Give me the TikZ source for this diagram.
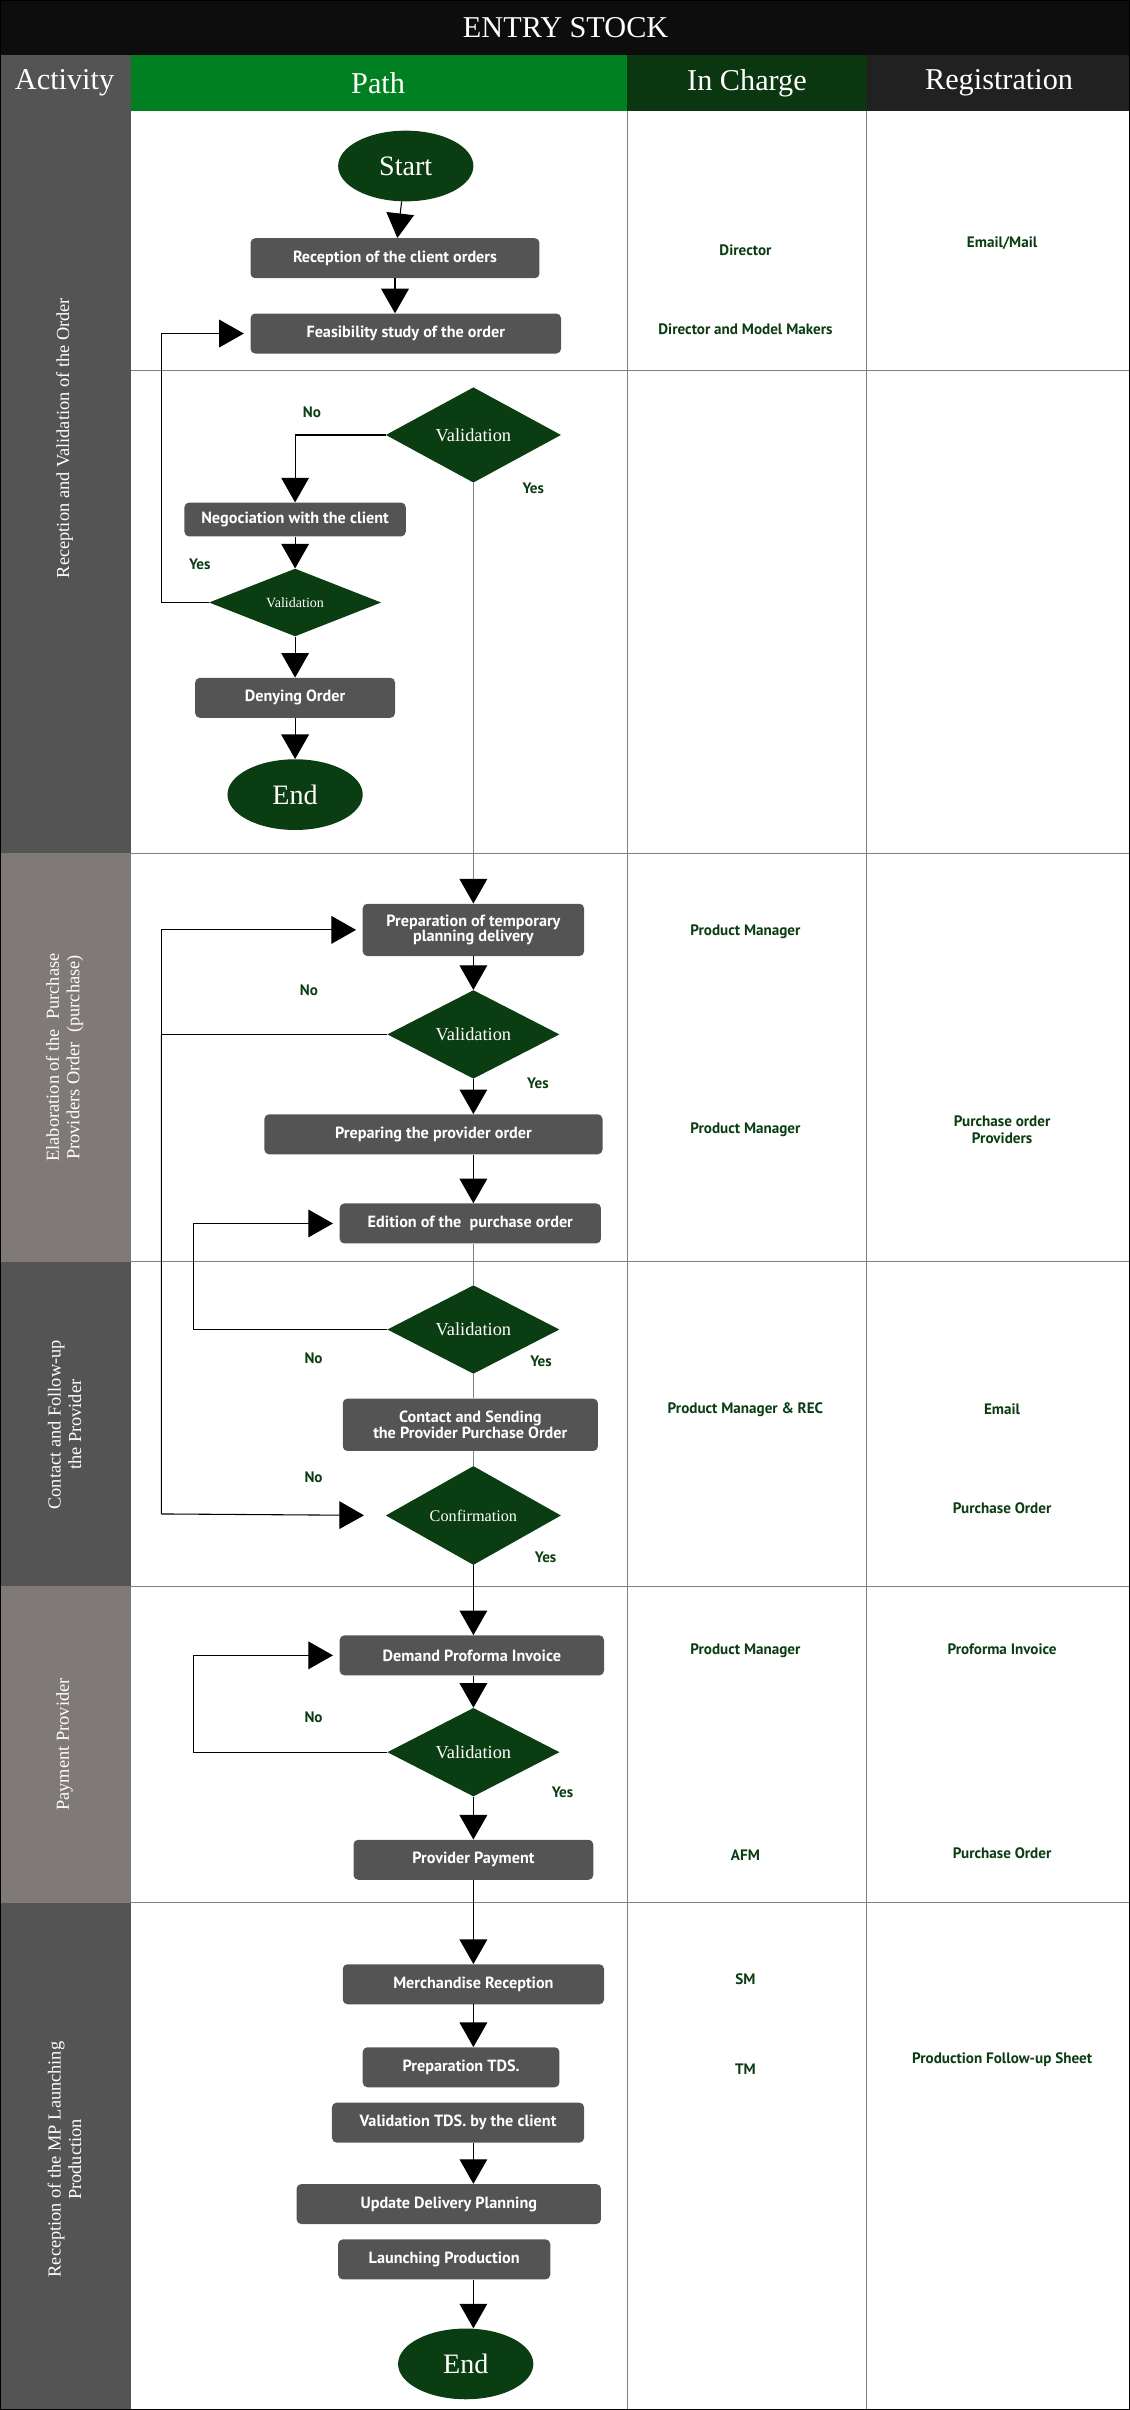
\documentclass[tikz,border=0pt]{standalone}
\usepackage{fontspec}
\setmainfont{Liberation Serif}
\newfontfamily\boxfont{PT Sans}
\usetikzlibrary{shapes.geometric,arrows.meta}
\definecolor{darkgr}{HTML}{0B3D12}
\definecolor{headgr}{HTML}{008020}
\definecolor{boxgray}{HTML}{545454}
\definecolor{lightact}{HTML}{7F7A78}

\tikzset{
  box/.style={rectangle,rounded corners=1.5mm,fill=boxgray,text=white,
    font=\boxfont\bfseries\fontsize{15}{17}\selectfont,align=center,
    minimum height=13mm,inner sep=1mm},
  dec/.style={diamond,fill=darkgr,text=white,inner sep=0pt,
    font=\fontsize{17}{19}\selectfont},
  term/.style={ellipse,fill=darkgr,text=white,minimum width=44mm,
    minimum height=23mm,font=\fontsize{26}{28}\selectfont},
  lbl/.style={text=darkgr,font=\boxfont\bfseries\fontsize{14}{16}\selectfont,align=center},
  act/.style={text=white,rotate=90,align=center,font=\fontsize{17}{19}\selectfont},
  head/.style={text=white,font=\fontsize{28}{30}\selectfont},
  flow/.style={line width=1pt,-{Triangle[length=8mm,width=9mm,color=black]}},
  thin/.style={draw=gray,line width=0.8pt},
}

\begin{document}
\begin{tikzpicture}[x=0.5mm,y=-0.5mm]
\useasboundingbox (0,0) rectangle (735,1568);
% header
\fill[black!95] (0,0) rectangle (735,36);
\node[head] (title) at (368,18) {ENTRY STOCK};
\fill[boxgray] (0,36) rectangle (85,1568);
\fill[headgr] (85,36) rectangle (408,72);
\fill[darkgr!90!black] (408,36) rectangle (564,72);
\fill[black!87] (564,36) rectangle (735,72);
\node[head] (hact) at (42,54) {Activity};
\node[head] (hpath) at (246,54) {Path};
\node[head] (hchg) at (486,54) {In Charge};
\node[head] (hreg) at (650,54) {Registration};
% activity column
\fill[lightact] (0,555) rectangle (85,821);
\fill[lightact] (0,1032) rectangle (85,1238);
\node[act] (a1) at (42,285) {Reception and Validation of the Order};
\node[act] (a2) at (42,688) {Elaboration of the \ Purchase\\Providers Order \ (purchase)};
\node[act] (a3) at (42,927) {Contact and Follow-up\\the Provider};
\node[act] (a4) at (42,1135) {Payment Provider};
\node[act] (a5) at (42,1405) {Reception of the MP Launching\\Production};
% grid
\foreach \y in {241,555,821,1032,1238}
  \draw[thin] (85,\y) -- (735,\y);
\draw[thin] (408,72) -- (408,1568);
\draw[thin] (564,72) -- (564,1568);
\draw[line width=1.5pt] (0,0) rectangle (735,1568);

% path nodes
\node[term] (start) at (264,108) {Start};
\node[box,minimum width=94mm] (recep) at (257,168) {Reception of the client orders};
\node[box,minimum width=101mm] (feas) at (264,217) {Feasibility study of the order};
\node[dec,minimum width=57mm,minimum height=31mm] (val1) at (308,283) {Validation};
\node[box,minimum width=72mm,minimum height=11mm] (nego) at (192,338) {Negociation with the client};
\node[dec,minimum width=56mm,minimum height=16mm,font=\fontsize{13}{15}\selectfont] (val2) at (192,392) {Validation};
\node[box,minimum width=65mm] (deny) at (192,454) {Denying Order};
\node[term] (end1) at (192,517) {End};
\node[box,minimum width=72mm,minimum height=17mm] (tempplan) at (308,605) {Preparation of temporary\\[-3pt]planning delivery};
\node[dec,minimum width=56mm,minimum height=20mm] (val3) at (308,673) {Validation};
\node[box,minimum width=110mm] (provord) at (282,738) {Preparing the provider order};
\node[box,minimum width=85mm] (edit) at (306,796) {Edition of the \ purchase order};
\node[dec,minimum width=56mm,minimum height=20mm] (val4) at (308,865) {Validation};
\node[box,minimum width=83mm,minimum height=17mm] (contact) at (306,927) {Contact and Sending\\[-3pt]the Provider Purchase Order};
\node[dec,minimum width=57mm,minimum height=20mm,font=\fontsize{15}{17}\selectfont] (conf) at (308,986) {Confirmation};
\node[box,minimum width=86mm] (demand) at (307,1077) {Demand Proforma Invoice};
\node[dec,minimum width=56mm,minimum height=20mm] (val5) at (308,1140) {Validation};
\node[box,minimum width=78mm] (pay) at (308,1210) {Provider Payment};
\node[box,minimum width=85mm] (merch) at (308,1291) {Merchandise Reception};
\node[box,minimum width=64mm] (preptds) at (300,1345) {Preparation TDS.};
\node[box,minimum width=82mm] (valtds) at (298,1381) {Validation TDS. by the client};
\node[box,minimum width=99mm] (update) at (292,1434) {Update Delivery Planning};
\node[box,minimum width=69mm] (launch) at (289,1470) {Launching Production};
\node[term] (end2) at (303,1538) {End};

% loop corners
\coordinate (c1) at (105,392);
\coordinate (c2) at (105,217);
\coordinate (c3) at (105,673);
\coordinate (c4) at (105,605);
\coordinate (c5) at (105,985);
\coordinate (c6) at (126,865);
\coordinate (c7) at (126,796);
\coordinate (c8) at (126,1140);
\coordinate (c9) at (126,1077);

% connectors
\draw[flow] (start) -- (recep);
\draw[flow] (recep) -- (feas.north -| recep);
\draw[flow] (val1.west) -| (nego.north);
\draw[flow] (nego) -- (val2);
\draw[flow] (val2) -- (deny);
\draw[flow] (deny) -- (end1);
\draw[flow,shorten >=6pt] (val2.west) -- (c1) -- (c2) -- (feas.west);
\draw[thin,-{Triangle[length=8mm,width=9mm,color=black]}] (val1.south) -- (tempplan.north);
\draw[flow] (tempplan) -- (val3);
\draw[flow] (val3) -- (provord.north -| val3);
\draw[flow] (provord.south -| val3) -- (edit.north -| val3);
\draw[flow,shorten >=6pt] (val3.west) -- (c3) -- (c4) -- (tempplan.west);
\draw[flow,shorten >=20pt] (c3) -- (c5) -- (conf.west);
\draw[thin] (edit.south -| val4) -- (val4);
\draw[thin] (val4) -- (contact.north -| val4);
\draw[thin] (contact.south -| conf) -- (conf);
\draw[flow,shorten >=6pt] (val4.west) -- (c6) -- (c7) -- (edit.west);
\draw[flow] (conf.south) -- (demand.north -| conf);
\draw[flow] (demand.south -| val5) -- (val5);
\draw[flow] (val5) -- (pay);
\draw[flow,shorten >=6pt] (val5.west) -- (c8) -- (c9) -- (demand.west);
\draw[flow] (pay) -- (merch);
\draw[flow] (merch.south -| pay) -- (preptds.north -| pay);
\draw[flow] (valtds.south -| pay) -- (update.north -| pay);
\draw[flow] (launch.south -| pay) -- (end2.north -| pay);

% yes/no labels
\node[lbl] (n1) at (203,268) {No};
\node[lbl] (y1) at (347,318) {Yes};
\node[lbl] (y2) at (130,367) {Yes};
\node[lbl] (n3) at (201,644) {No};
\node[lbl] (y3) at (350,705) {Yes};
\node[lbl] (n4) at (204,884) {No};
\node[lbl] (y4) at (352,886) {Yes};
\node[lbl] (n5) at (204,961) {No};
\node[lbl] (y5) at (355,1013) {Yes};
\node[lbl] (n6) at (204,1117) {No};
\node[lbl] (y6) at (366,1166) {Yes};

% in charge
\node[lbl] (ic1) at (485,163) {Director};
\node[lbl] (ic2) at (485,214) {Director and Model Makers};
\node[lbl] (ic3) at (485,606) {Product Manager};
\node[lbl] (ic4) at (485,735) {Product Manager};
\node[lbl] (ic5) at (485,917) {Product Manager \& REC};
\node[lbl] (ic6) at (485,1074) {Product Manager};
\node[lbl] (ic7) at (485,1207) {AFM};
\node[lbl] (ic8) at (485,1288) {SM};
\node[lbl] (ic9) at (485,1346) {TM};

% registration
\node[lbl] (rg1) at (652,158) {Email/Mail};
\node[lbl] (rg2) at (652,735) {Purchase order\\Providers};
\node[lbl] (rg3) at (652,917) {Email};
\node[lbl] (rg4) at (652,981) {Purchase Order};
\node[lbl] (rg5) at (652,1073) {Proforma Invoice};
\node[lbl] (rg6) at (652,1206) {Purchase Order};
\node[lbl] (rg7) at (652,1340) {Production Follow-up Sheet};
\end{tikzpicture}
\end{document}
